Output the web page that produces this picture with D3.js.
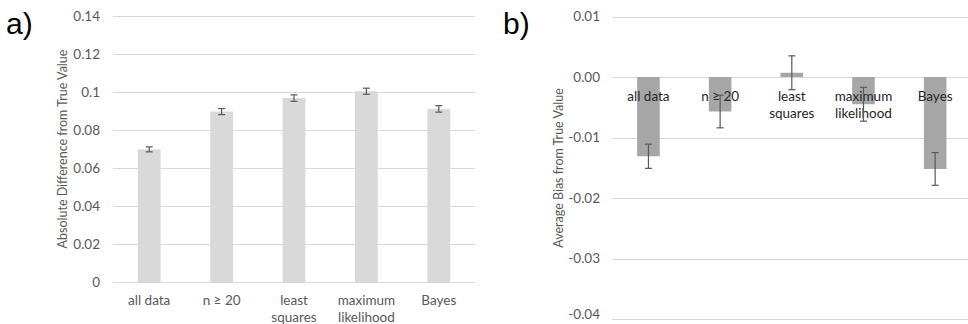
<!DOCTYPE html>
<html><head><meta charset="utf-8">
<script src="https://cdn.jsdelivr.net/npm/d3@7"></script>
<style>body{margin:0;background:#fff;} svg{display:block;} text{font-family:Lato,"Open Sans",sans-serif;}</style>
</head><body><svg id="c" width="968" height="324"></svg>
<script>
const categories = ["all data", "n \u2265 20", "least squares", "maximum likelihood", "Bayes"];
const absDiff = [0.0698, 0.0897, 0.0968, 0.1004, 0.0911];
const absErr = [0.0013, 0.0016, 0.0017, 0.0016, 0.0017];
const bias = [-0.0131, -0.0057, 0.0007, -0.0045, -0.0152];
const biasErr = [0.0020, 0.0027, 0.0028, 0.0028, 0.0027];
const ticksA = [0, 0.02, 0.04, 0.06, 0.08, 0.1, 0.12, 0.14];
const tickLabelsA = ["0", "0.02", "0.04", "0.06", "0.08", "0.1", "0.12", "0.14"];
const ticksB = [0.01, 0, -0.01, -0.02, -0.03, -0.04];
const tickLabelsB = ["0.01", "0.00", "-0.01", "-0.02", "-0.03", "-0.04"];

const svg = d3.select("#c");
const textCol = "#595959", gridCol = "#d9d9d9", errCol = "#595959";

function wrapLabel(sel, lh) {
  sel.each(function(d) {
    const t = d3.select(this);
    const parts = d === "least squares" ? ["least", "squares"] : d === "maximum likelihood" ? ["maximum", "likelihood"] : [d];
    t.text(null);
    parts.forEach((p, i) => t.append("tspan").attr("x", t.attr("x")).attr("dy", i === 0 ? "0.35em" : lh).text(p));
  });
}

// Panel a
{
  const x = d3.scaleBand().domain(categories).range([113, 475]).paddingInner(0.685).paddingOuter(0.3425);
  const y = d3.scaleLinear().domain([0, 0.14]).range([282, 16]);
  const g = svg.append("g");
  g.selectAll(".grid").data(ticksA).join("line")
    .attr("x1", 113).attr("x2", 475).attr("y1", d => Math.round(y(d)) + 0.5).attr("y2", d => Math.round(y(d)) + 0.5)
    .attr("stroke", gridCol).attr("stroke-width", 1);
  g.selectAll(".tl").data(ticksA).join("text")
    .attr("x", 100).attr("y", d => y(d)).attr("dy", "0.35em").attr("text-anchor", "end")
    .attr("fill", textCol).attr("font-size", 13.5).text((d, i) => tickLabelsA[i]);
  g.selectAll(".bar").data(absDiff).join("rect")
    .attr("x", (d, i) => x(categories[i])).attr("width", x.bandwidth())
    .attr("y", d => y(d)).attr("height", d => y(0) - y(d)).attr("fill", "#d9d9d9");
  const eb = g.selectAll(".eb").data(absDiff).join("g").attr("stroke", errCol).attr("stroke-width", 1.2);
  eb.append("line").attr("x1", (d, i) => x(categories[i]) + x.bandwidth() / 2).attr("x2", (d, i) => x(categories[i]) + x.bandwidth() / 2)
    .attr("y1", (d, i) => y(d + absErr[i])).attr("y2", (d, i) => y(d - absErr[i]));
  [1, -1].forEach(s => eb.append("line")
    .attr("x1", (d, i) => x(categories[i]) + x.bandwidth() / 2 - 3.5).attr("x2", (d, i) => x(categories[i]) + x.bandwidth() / 2 + 3.5)
    .attr("y1", (d, i) => y(d + s * absErr[i])).attr("y2", (d, i) => y(d + s * absErr[i])));
  g.selectAll(".cl").data(categories).join("text")
    .attr("x", d => x(d) + x.bandwidth() / 2).attr("y", 300).attr("text-anchor", "middle")
    .attr("fill", textCol).attr("font-size", 13.5).text(d => d).call(wrapLabel, 17);
  g.append("text").attr("transform", "translate(63,149) rotate(-90)").attr("text-anchor", "middle").attr("dy", "0.35em")
    .attr("fill", textCol).attr("font-size", 12.5).text("Absolute Difference from True Value");
  g.append("text").attr("x", 6).attr("y", 34).attr("font-size", 30).attr("fill", "#000")
    .style("font-family", "Arial, 'Liberation Sans', sans-serif").text("a)");
}

// Panel b
{
  const x = d3.scaleBand().domain(categories).range([612.6, 971]).paddingInner(0.685).paddingOuter(0.3425);
  const y = d3.scaleLinear().domain([-0.04, 0.01]).range([319, 16.5]);
  const g = svg.append("g");
  g.selectAll(".grid").data(ticksB).join("line")
    .attr("x1", 612).attr("x2", 968).attr("y1", d => Math.round(y(d)) + 0.5).attr("y2", d => Math.round(y(d)) + 0.5)
    .attr("stroke", gridCol).attr("stroke-width", 1);
  g.selectAll(".tl").data(ticksB).join("text")
    .attr("x", 600).attr("y", d => Math.min(y(d), 314)).attr("dy", "0.35em").attr("text-anchor", "end")
    .attr("fill", textCol).attr("font-size", 13.5).text((d, i) => tickLabelsB[i]);
  g.selectAll(".bar").data(bias).join("rect")
    .attr("x", (d, i) => x(categories[i])).attr("width", x.bandwidth())
    .attr("y", d => y(Math.max(0, d))).attr("height", d => Math.abs(y(d) - y(0))).attr("fill", "#a6a6a6");
  g.selectAll(".cl").data(categories).join("text")
    .attr("x", d => x(d) + x.bandwidth() / 2).attr("y", 96).attr("text-anchor", "middle")
    .attr("fill", "#262626").attr("font-size", 13.5).text(d => d).call(wrapLabel, 17);
  const eb = g.selectAll(".eb").data(bias).join("g").attr("stroke", errCol).attr("stroke-width", 1.2);
  eb.append("line").attr("x1", (d, i) => x(categories[i]) + x.bandwidth() / 2).attr("x2", (d, i) => x(categories[i]) + x.bandwidth() / 2)
    .attr("y1", (d, i) => y(d + biasErr[i])).attr("y2", (d, i) => y(d - biasErr[i]));
  [1, -1].forEach(s => eb.append("line")
    .attr("x1", (d, i) => x(categories[i]) + x.bandwidth() / 2 - 3.5).attr("x2", (d, i) => x(categories[i]) + x.bandwidth() / 2 + 3.5)
    .attr("y1", (d, i) => y(d + s * biasErr[i])).attr("y2", (d, i) => y(d + s * biasErr[i])));
  g.append("text").attr("transform", "translate(559,168) rotate(-90)").attr("text-anchor", "middle").attr("dy", "0.35em")
    .attr("fill", textCol).attr("font-size", 12.5).text("Average Bias from True Value");
  g.append("text").attr("x", 503).attr("y", 34).attr("font-size", 30).attr("fill", "#000")
    .style("font-family", "Arial, 'Liberation Sans', sans-serif").text("b)");
}
</script></body></html>
